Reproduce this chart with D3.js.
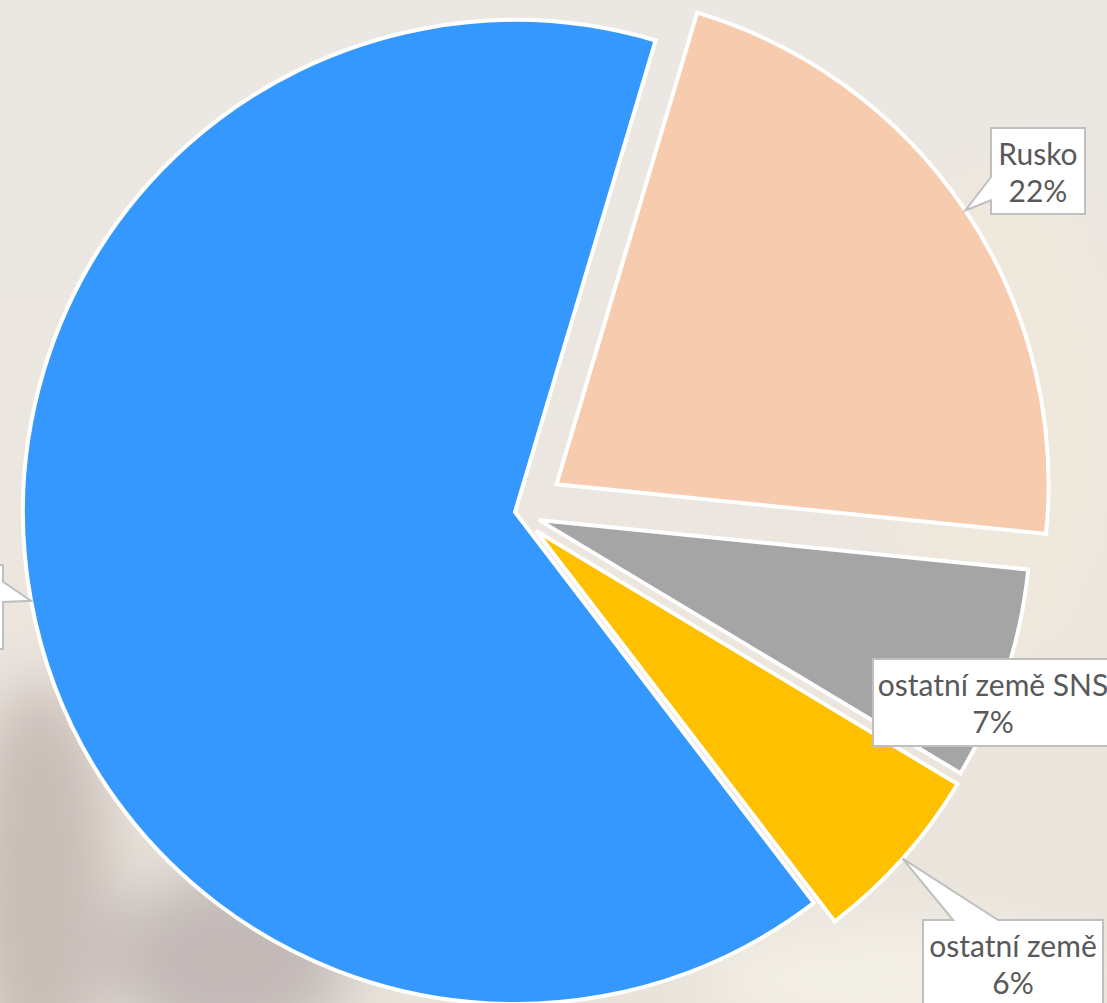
<!DOCTYPE html>
<html>
<head>
<meta charset="utf-8">
<script src="https://cdn.jsdelivr.net/npm/d3@7/dist/d3.min.js"></script>
<style>
  html, body { margin: 0; padding: 0; background: #ece7e1; overflow: hidden; }
  svg { display: block; }
</style>
</head>
<body>
<svg id="chart" width="1107" height="1003"></svg>
<script>
// ---- data ----
const categories = ["Rusko", "ostatní země SNS", "ostatní země", "ostatní"];
const shares = [22, 7, 6, 65];
const valueLabels = ["22%", "7%", "6%", "65%"];
const colors = ["#f7cbad", "#a5a5a5", "#ffc000", "#3598fe"];

// ---- layout ----
const W = 1107, H = 1003;
const cx = 515, cy = 512, R = 492;
const startDeg = 16.6;
const explode = [50, 25, 28, 0];
const boxes = [
  { x: 991, y: 128, w: 94, h: 86, side: "left", b0: 0.57, b1: 0.84, show: true },
  { x: 873, y: 659, w: 240, h: 87, side: null, show: true },
  { x: 923, y: 920, w: 180, h: 100, side: "top", b0: 0.167, b1: 0.417, show: true },
  { x: -150, y: 565, w: 153, h: 84, side: "right", b0: 0.2, b1: 0.44, show: false }
];

const svg = d3.select("#chart");

// background approximating the blurred photo
const defs = svg.append("defs");
const blur = defs.append("filter").attr("id", "blur").attr("x", "-50%").attr("y", "-50%").attr("width", "200%").attr("height", "200%");
blur.append("feGaussianBlur").attr("stdDeviation", 30);
const lg = defs.append("linearGradient").attr("id", "bg").attr("x1", 0).attr("y1", 0).attr("x2", 0).attr("y2", 1);
lg.append("stop").attr("offset", "0").attr("stop-color", "#ebe7e2");
lg.append("stop").attr("offset", "0.6").attr("stop-color", "#ece6df");
lg.append("stop").attr("offset", "1").attr("stop-color", "#e9e3da");
svg.append("rect").attr("width", W).attr("height", H).attr("fill", "url(#bg)");
const bgBlobs = svg.append("g").attr("filter", "url(#blur)");
bgBlobs.append("ellipse").attr("cx", 40).attr("cy", 880).attr("rx", 70).attr("ry", 200).attr("fill", "#c8bcb6");
bgBlobs.append("ellipse").attr("cx", 230).attr("cy", 960).attr("rx", 120).attr("ry", 90).attr("fill", "#c3b9b7");
bgBlobs.append("ellipse").attr("cx", 1000).attr("cy", 420).attr("rx", 120).attr("ry", 260).attr("fill", "#efe8dc");
bgBlobs.append("ellipse").attr("cx", 900).attr("cy", 980).attr("rx", 200).attr("ry", 60).attr("fill", "#f3efe6");

// pie
const pie = d3.pie().sort(null).value(d => d)
  .startAngle(startDeg * Math.PI / 180)
  .endAngle(startDeg * Math.PI / 180 + 2 * Math.PI);
const arcs = pie(shares);
const arc = d3.arc().innerRadius(0).outerRadius(R);
const rimArc = d3.arc().innerRadius(R).outerRadius(R);

const offsetOf = (d, i) => {
  const mid = (d.startAngle + d.endAngle) / 2;
  return [Math.sin(mid) * explode[i], -Math.cos(mid) * explode[i]];
};

const g = svg.append("g").attr("transform", `translate(${cx},${cy})`);
g.selectAll("path.slice").data(arcs).join("path")
  .attr("class", "slice")
  .attr("d", arc)
  .attr("transform", (d, i) => { const o = offsetOf(d, i); return `translate(${o[0]},${o[1]})`; })
  .attr("fill", (d, i) => colors[i])
  .attr("stroke", "#ffffff")
  .attr("stroke-width", 4)
  .attr("stroke-linejoin", "miter");

// callout labels
const labels = svg.append("g");
arcs.forEach((d, i) => {
  const b = boxes[i];
  const o = offsetOf(d, i);
  const c = rimArc.centroid(d);
  const tip = [cx + o[0] + c[0], cy + o[1] + c[1]];
  let pts;
  const x0 = b.x, y0 = b.y, x1 = b.x + b.w, y1 = b.y + b.h;
  if (b.side === "left") {
    const ya = y0 + b.b0 * b.h, yb = y0 + b.b1 * b.h;
    pts = [[x0, y0], [x1, y0], [x1, y1], [x0, y1], [x0, yb], tip, [x0, ya]];
  } else if (b.side === "right") {
    const ya = y0 + b.b0 * b.h, yb = y0 + b.b1 * b.h;
    pts = [[x0, y0], [x1, y0], [x1, ya], tip, [x1, yb], [x1, y1], [x0, y1]];
  } else if (b.side === "top") {
    const xa = x0 + b.b0 * b.w, xb = x0 + b.b1 * b.w;
    pts = [[x0, y0], [xa, y0], tip, [xb, y0], [x1, y0], [x1, y1], [x0, y1]];
  } else {
    pts = [[x0, y0], [x1, y0], [x1, y1], [x0, y1]];
  }
  labels.append("path")
    .attr("d", d3.line()(pts) + "Z")
    .attr("fill", "#ffffff")
    .attr("stroke", "#bfbfbf")
    .attr("stroke-width", 2)
    .attr("stroke-linejoin", "miter");
  if (b.show) {
    const tx = b.x + b.w / 2;
    const t = labels.append("text")
      .attr("text-anchor", "middle")
      .attr("font-family", "Lato, 'Open Sans', sans-serif")
      .attr("font-size", 30)
      .attr("fill", "#595959");
    t.append("tspan").attr("x", tx).attr("y", b.y + 37).text(categories[i]);
    t.append("tspan").attr("x", tx).attr("y", b.y + 37 + 37).text(valueLabels[i]);
  }
});
</script>
</body>
</html>
